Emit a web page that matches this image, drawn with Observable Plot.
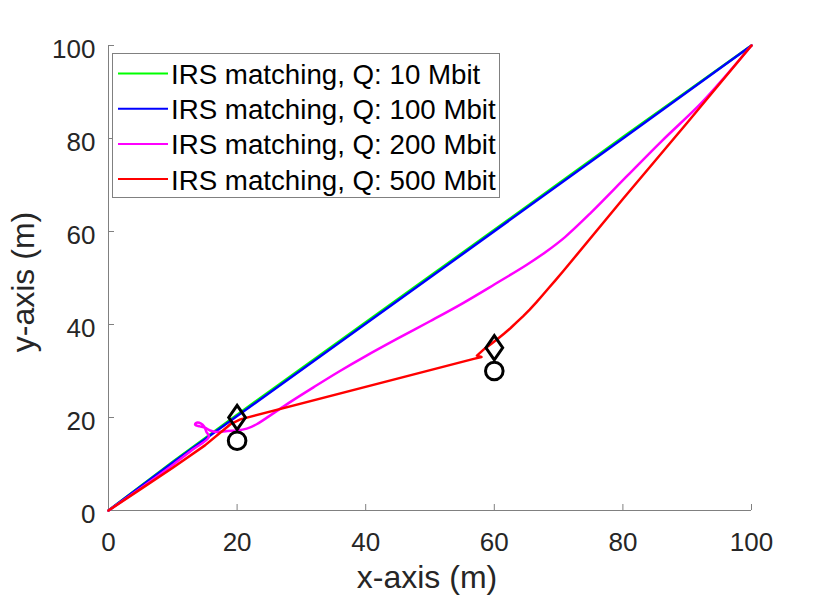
<!DOCTYPE html>
<html><head><meta charset="utf-8">
<script src="https://cdn.jsdelivr.net/npm/d3@7"></script>
<script src="https://cdn.jsdelivr.net/npm/@observablehq/plot@0.6"></script>
<style>
html,body{margin:0;padding:0;background:#fff;}
#wrap{position:relative;width:830px;height:603px;font-family:"Liberation Sans",Arial,Helvetica,sans-serif;}
#legend{position:absolute;left:0;top:0;pointer-events:none;}
</style></head><body><div id="wrap"></div>
<script>
// ---- data ----
const seriesNames = ["IRS matching, Q: 10 Mbit", "IRS matching, Q: 100 Mbit", "IRS matching, Q: 200 Mbit", "IRS matching, Q: 500 Mbit"];
const seriesColors = ["#00ff00", "#0000ff", "#ff00ff", "#ff0000"];

const q10X = [0, 10, 20, 50, 80, 100];
const q10Y = [0, 10.5, 20.6, 50.4, 80.3, 100];

const q100X = [0, 10, 20, 50, 80, 100];
const q100Y = [0, 10.3, 20.3, 50.1, 80.0, 100];

const q200X = [0, 5, 10, 13, 15.6, 15.2, 14.9, 14.4, 13.6, 13.5, 14.2, 15.0, 15.8, 16.8, 18.5, 20, 21.5, 23.1, 25, 28, 32, 36, 40, 45, 50, 55, 60, 65, 68, 71, 75, 80.7, 86, 92.1, 96, 100];
const q200Y = [0, 4.8, 9.8, 13.0, 15.8, 17.0, 18.0, 18.7, 18.8, 18.4, 18.1, 17.8, 17.2, 16.9, 17.1, 17.2, 17.6, 18.6, 20.3, 23.1, 26.6, 30.0, 33.2, 37.0, 40.7, 44.5, 48.6, 52.8, 55.6, 58.8, 64.0, 72.0, 79.4, 87.5, 93.5, 100];

const q500X = [0, 5, 10, 15, 18.5, 19.0, 20.5, 56.8, 58.0, 57.3, 58.5, 59.5, 60.5, 61.5, 62.5, 63.5, 64.5, 65.5, 66.5, 67.5, 68.5, 69.5, 70.8, 80, 90, 100];
const q500Y = [0, 4.6, 9.2, 14.0, 18.0, 18.6, 19.6, 32.6, 33.0, 33.3, 34.8, 35.8, 36.9, 38.0, 39.2, 40.5, 41.8, 43.2, 44.7, 46.3, 47.9, 49.5, 51.6, 67.0, 83.4, 100];

const diamondX = [20, 60];
const diamondY = [20, 35];
const circleX = [20, 60];
const circleY = [15, 30];

const xTicks = [0, 20, 40, 60, 80, 100];
const yTicks = [0, 20, 40, 60, 80, 100];
const xLabel = "x-axis (m)";
const yLabel = "y-axis (m)";

// ---- build ----
const seriesX = [q10X, q100X, q200X, q500X];
const seriesY = [q10Y, q100Y, q200Y, q500Y];
const seriesCurve = ["linear", "linear", "catmull-rom", "linear"];
const series = seriesX.map((xs, s) => xs.map((x, i) => ({x, y: seriesY[s][i]})));
const diamonds = diamondX.map((x, i) => ({x, y: diamondY[i]}));
const circles = circleX.map((x, i) => ({x, y: circleY[i]}));

const axisColor = "#808080";
const textColor = "#262626";
const font = '"Liberation Sans", Arial, Helvetica, sans-serif';

const diamondSym = {
  draw(ctx, size) {
    const r = Math.sqrt(size / Math.PI);
    const w = r * 0.82, h = r * 1.18;
    ctx.moveTo(0, -h); ctx.lineTo(w, 0); ctx.lineTo(0, h); ctx.lineTo(-w, 0); ctx.closePath();
  }
};

const chart = Plot.plot({
  width: 830, height: 603,
  marginLeft: 108, marginRight: 79, marginTop: 45, marginBottom: 93,
  x: {domain: [0, 100]},
  y: {domain: [0, 100]},
  style: {fontFamily: font, background: "white", overflow: "visible"},
  marks: [
    Plot.ruleX([0], {stroke: axisColor, strokeWidth: 1}),
    Plot.ruleY([0], {stroke: axisColor, strokeWidth: 1}),
    Plot.axisX(xTicks, {tickSize: -6, stroke: axisColor, tickFormat: () => "", label: null}),
    Plot.axisY(yTicks, {tickSize: -6, stroke: axisColor, tickFormat: () => "", label: null}),
    Plot.text(xTicks, {x: d => d, text: d => String(d), frameAnchor: "bottom", lineAnchor: "top", dy: 22, fontSize: 26, fill: textColor}),
    Plot.text(yTicks, {y: d => d, text: d => String(d), frameAnchor: "left", textAnchor: "end", lineAnchor: "middle", dx: -13, dy: 4, fontSize: 26, fill: textColor}),
    Plot.text([xLabel], {text: d => d, frameAnchor: "bottom", textAnchor: "middle", lineAnchor: "middle", dy: 67, dx: -3, fontSize: 32, fill: textColor}),
    Plot.text([yLabel], {text: d => d, frameAnchor: "left", textAnchor: "middle", lineAnchor: "middle", rotate: -90, dx: -85, dy: 4, fontSize: 32, fill: textColor}),
    ...series.map((d, s) => Plot.line(d, {x: "x", y: "y", stroke: seriesColors[s], strokeWidth: 2.5, curve: seriesCurve[s]})),
    Plot.dot(diamonds, {x: "x", y: "y", symbol: diamondSym, r: 10.2, stroke: "black", fill: "none", strokeWidth: 3}),
    Plot.dot(circles, {x: "x", y: "y", r: 8.8, stroke: "black", fill: "none", strokeWidth: 3})
  ]
});
const wrap = document.getElementById("wrap");
wrap.appendChild(chart);

// ---- legend overlay ----
const ns = "http://www.w3.org/2000/svg";
const leg = document.createElementNS(ns, "svg");
leg.setAttribute("id", "legend");
leg.setAttribute("width", 830);
leg.setAttribute("height", 603);
const rect = document.createElementNS(ns, "rect");
rect.setAttribute("x", 112.5); rect.setAttribute("y", 53.5);
rect.setAttribute("width", 387); rect.setAttribute("height", 144);
rect.setAttribute("fill", "white"); rect.setAttribute("stroke", axisColor); rect.setAttribute("stroke-width", 1);
leg.appendChild(rect);
seriesNames.forEach((name, i) => {
  const cy = 73.5 + i * 35.2;
  const ln = document.createElementNS(ns, "line");
  ln.setAttribute("x1", 118); ln.setAttribute("x2", 168);
  ln.setAttribute("y1", cy); ln.setAttribute("y2", cy);
  ln.setAttribute("stroke", seriesColors[i]); ln.setAttribute("stroke-width", 2);
  leg.appendChild(ln);
  const t = document.createElementNS(ns, "text");
  t.setAttribute("x", 171); t.setAttribute("y", cy + 10.5);
  t.setAttribute("font-family", font); t.setAttribute("font-size", 27.7);
  t.setAttribute("fill", "#000");
  t.textContent = name;
  leg.appendChild(t);
});
wrap.appendChild(leg);
</script>
</body></html>
